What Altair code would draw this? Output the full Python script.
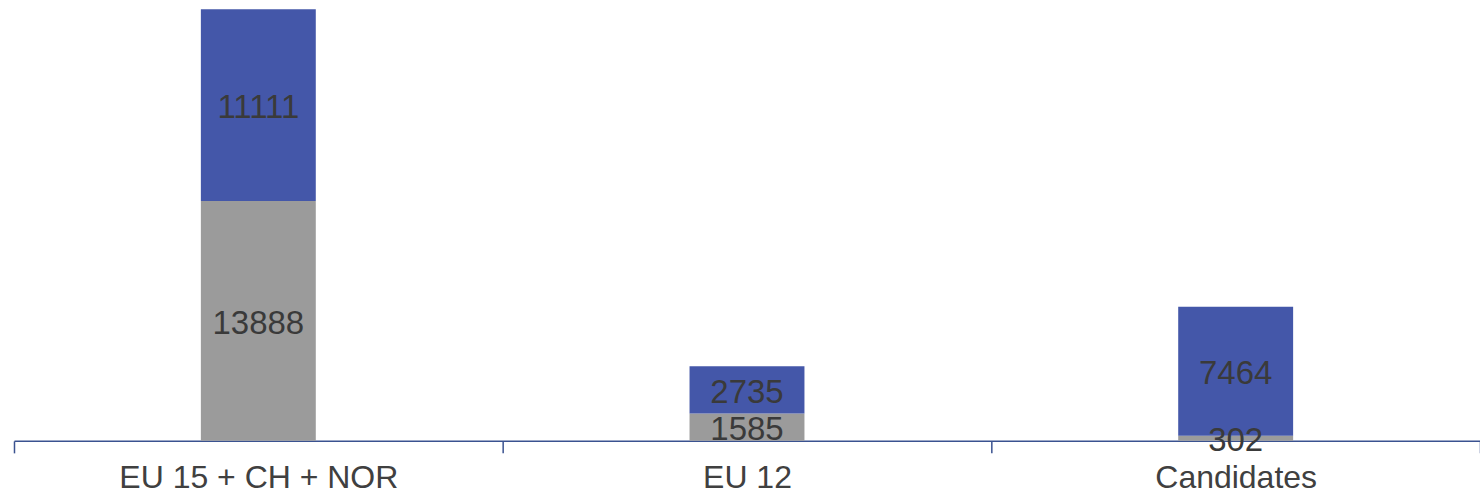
import altair as alt
import pandas as pd

categories = ["EU 15 + CH + NOR", "EU 12", "Candidates"]
bottom_values = [13888, 1585, 302]
top_values = [11111, 2735, 7464]
series_names = ["bottom", "top"]
series_colors = ["#9B9B9B", "#4457A9"]

rows = []
for i, c in enumerate(categories):
    rows.append({"cat": c, "series": "bottom", "order": 0, "value": bottom_values[i]})
    rows.append({"cat": c, "series": "top", "order": 1, "value": top_values[i]})
df = pd.DataFrame(rows)

x = alt.X("cat:N", sort=categories, title=None,
          scale=alt.Scale(paddingInner=0, paddingOuter=0),
          axis=alt.Axis(labelAngle=0, tickBand="extent", labelFontSize=32,
                        labelFont="Liberation Sans", labelColor="#404040",
                        labelLimit=0,
                        domainColor="#3A5290", tickColor="#3A5290",
                        domainWidth=1.5, tickWidth=1.5, tickSize=12,
                        labelPadding=10, grid=False))
y = alt.Y("sum(value):Q", stack="zero", title=None,
          scale=alt.Scale(domain=[0, 25000], nice=False),
          axis=None)

bars = alt.Chart(df).mark_bar(size=115).encode(
    x=x, y=y,
    color=alt.Color("series:N", scale=alt.Scale(domain=series_names, range=series_colors), legend=None),
    order=alt.Order("order:Q"),
)

texts = alt.Chart(df).transform_stack(
    stack="value", groupby=["cat"], as_=["v0", "v1"], sort=[alt.SortField("order")]
).transform_calculate(
    mid="(datum.v0 + datum.v1) / 2"
).mark_text(fontSize=33, font="Liberation Sans", color="#3A3A3A", baseline="middle", dy=3).encode(
    x=alt.X("cat:N", sort=categories),
    y=alt.Y("mid:Q"),
    text=alt.Text("value:Q", format="d"),
)

chart = alt.layer(bars, texts).properties(
    width=1467, height=432,
    autosize=alt.AutoSizeParams(type="none"),
    padding={"left": 14, "top": 9, "right": 0, "bottom": 53},
    background="white",
).configure_view(strokeWidth=0, stroke=None)

chart.save("out.html", embed_options={"renderer": "svg", "actions": False})
